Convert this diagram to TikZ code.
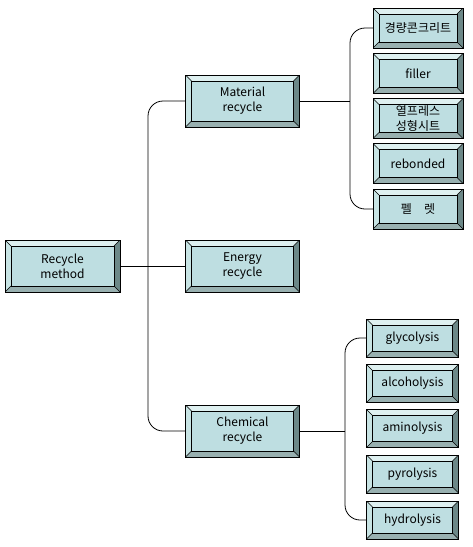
\documentclass[tikz,border=0pt]{standalone}
\usepackage{fontspec}
\newfontfamily\kr{Noto Sans CJK KR}
\usepackage{tikz}
\definecolor{face}{RGB}{190,222,225}
\definecolor{bvtop}{RGB}{222,240,240}
\definecolor{bvleft}{RGB}{200,228,228}
\definecolor{bvright}{RGB}{108,136,136}
\definecolor{bvbot}{RGB}{152,176,176}
\newcommand\bw{6pt}

\begin{document}
\begin{tikzpicture}[x=1pt,y=-1pt,
  bevel/.style={path picture={
    \path (path picture bounding box.north west) coordinate (bnw)
          (path picture bounding box.north east) coordinate (bne)
          (path picture bounding box.south east) coordinate (bse)
          (path picture bounding box.south west) coordinate (bsw);
    \path ([xshift=\bw,yshift=-\bw]bnw) coordinate (inw)
          ([xshift=-\bw,yshift=-\bw]bne) coordinate (ine)
          ([xshift=-\bw,yshift=\bw]bse) coordinate (ise)
          ([xshift=\bw,yshift=\bw]bsw) coordinate (isw);
    \fill[bvtop] (bnw) -- (bne) -- (ine) -- (inw) -- cycle;
    \fill[bvleft] (bnw) -- (inw) -- (isw) -- (bsw) -- cycle;
    \fill[bvright] (bne) -- (bse) -- (ise) -- (ine) -- cycle;
    \fill[bvbot] (bsw) -- (isw) -- (ise) -- (bse) -- cycle;
    \draw[line width=0.5pt] (inw) rectangle (ise);
    \draw[line width=0.4pt] (bnw) -- (inw) (bne) -- (ine) (bse) -- (ise) (bsw) -- (isw);
  }},
  btn/.style n args={2}{rectangle,draw=black,line width=0.6pt,fill=face,bevel,
    minimum width=#1,minimum height=#2,inner sep=0pt,outer sep=0pt,align=center,
    font=\kr\fontsize{12}{15}\selectfont},
  link/.style={line width=0.8pt,rounded corners=15pt}]
\fill[white] (0,0) rectangle (472,547);
\useasboundingbox (0,0) rectangle (472,547);

\node[btn={115pt}{52pt}] (root) at (62.5,266) {Recycle\\method};
\node[btn={114pt}{52pt}] (mat) at (242.5,101) {Material\\recycle};
\node[btn={114pt}{52pt}] (en) at (242.5,266) {Energy\\recycle};
\node[btn={114pt}{52pt}] (ch) at (242.5,431) {Chemical\\recycle};

\foreach \y/\txt [count=\i] in %
{28/경량콘크리트,73.5/filler,118.5/열프레스\\성형시트,163.5/rebonded,209/펠\quad 렛} {
   \node[btn={90pt}{40pt}] (m\i) at (418,\y) {\txt};
}
\foreach \y/\txt [count=\i] in %
{338/glycolysis,383.5/alcoholysis,428.5/aminolysis,474/pyrolysis,520/hydrolysis} {
   \node[btn={92pt}{38pt}] (c\i) at (412.5,\y) {\txt};
}

\coordinate (lbus) at (148,266);
\coordinate (mbus) at (350,101);
\coordinate (cbus) at (345,431);
\draw[link] (root) -- (en);
\draw[link] (mat.west) -| (lbus) |- (ch.west);
\draw[link] (mat) -- (mbus);
\draw[link] (m1.west) -| (mbus) |- (m5.west);
\draw[link] (ch) -- (cbus);
\draw[link] (c1.west) -| (cbus) |- (c5.west);
\end{tikzpicture}
\end{document}
